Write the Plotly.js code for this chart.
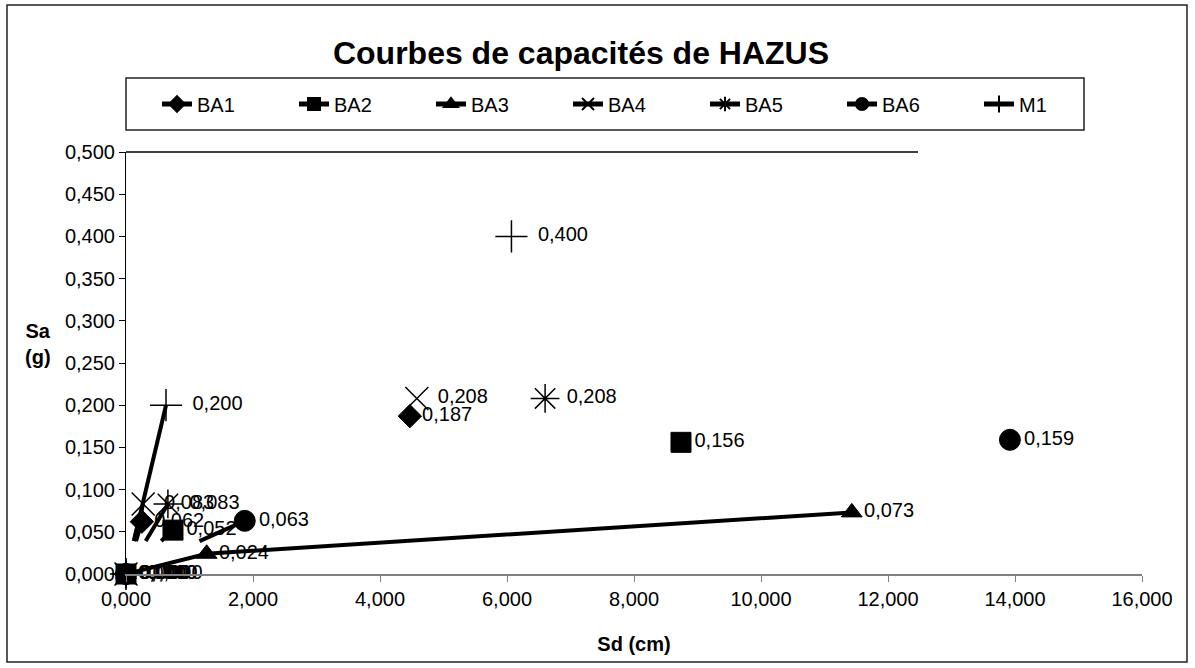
<!DOCTYPE html>
<html>
<head>
<meta charset="utf-8">
<script src="https://cdn.plot.ly/plotly-3.0.1.min.js"></script>
<style>html,body{margin:0;padding:0;background:#fff;}#chart{width:1195px;height:668px;}</style>
</head>
<body>
<div id="chart"></div>
<script>
// ---- Data (Sd in cm, Sa in g): origin, yield point, ultimate point ----
const seriesNames = ["BA1", "BA2", "BA3", "BA4", "BA5", "BA6", "M1"];
const sdBA1 = [0, 0.25, 4.47];   const saBA1 = [0, 0.062, 0.187];
const sdBA2 = [0, 0.74, 8.74];   const saBA2 = [0, 0.052, 0.156];
const sdBA3 = [0, 1.27, 11.43];  const saBA3 = [0, 0.024, 0.073];
const sdBA4 = [0, 0.27, 4.58];   const saBA4 = [0, 0.083, 0.208];
const sdBA5 = [0, 0.66, 6.60];   const saBA5 = [0, 0.083, 0.208];
const sdBA6 = [0, 1.87, 13.92];  const saBA6 = [0, 0.063, 0.159];
const sdM1  = [0, 0.63, 6.07];   const saM1  = [0, 0.200, 0.400];
const xTicks = [0, 2, 4, 6, 8, 10, 12, 14, 16];
const yTicks = [0, 0.05, 0.1, 0.15, 0.2, 0.25, 0.3, 0.35, 0.4, 0.45, 0.5];

// ---- Styles ----
const FONT = "Liberation Sans, Arial, sans-serif";
const LINE_FLOOR = 0.039; // lines appear only above this level in the source (except BA3)
const styles = {
  BA1: {symbol: "diamond", size: 18, pad: 0},
  BA2: {symbol: "square", size: 20, pad: 0},
  BA3: {symbol: "triangle-up", size: 18, pad: 0, full: true},
  BA4: {symbol: "x-thin-open", size: 23, thin: true, pad: 1},
  BA5: {symbol: "asterisk-open", size: 24, thin: true, pad: 1},
  BA6: {symbol: "circle", size: 21, pad: 0},
  M1:  {symbol: "cross-thin-open", size: 23, thin: true, pad: 2}
};
const dataSd = {BA1: sdBA1, BA2: sdBA2, BA3: sdBA3, BA4: sdBA4, BA5: sdBA5, BA6: sdBA6, M1: sdM1};
const dataSa = {BA1: saBA1, BA2: saBA2, BA3: saBA3, BA4: saBA4, BA5: saBA5, BA6: saBA6, M1: saM1};

const fmt = v => v.toFixed(3).replace(".", ",");

function buildTrace(name) {
  const sd = dataSd[name], sa = dataSa[name], st = styles[name];
  const lab = v => "\u00A0".repeat(st.pad) + fmt(v);
  let x, y, sizes, text;
  if (st.full) {
    x = sd.slice(); y = sa.slice();
    sizes = sd.map(() => st.size);
    text = sa.map(lab);
  } else {
    const t = LINE_FLOOR / sa[1];
    const cx = sd[0] + (sd[1] - sd[0]) * t;
    x = [sd[0], null, cx, sd[1], null, sd[2]];
    y = [sa[0], null, LINE_FLOOR, sa[1], null, sa[2]];
    sizes = [st.size, 0, 0, st.size, 0, st.size];
    text = [lab(sa[0]), "", "", lab(sa[1]), "", lab(sa[2])];
  }
  return {
    type: "scatter", mode: "lines+markers+text", name: name,
    x: x, y: y, text: text, textposition: "middle right",
    textfont: {family: FONT, size: 20, color: "#000"},
    connectgaps: false, cliponaxis: false,
    line: {color: "#000", width: 4},
    marker: {symbol: st.symbol, size: sizes, color: "#000", opacity: 1,
             line: {color: "#000", width: st.thin ? 1.5 : 1}},
    hoverinfo: "x+y"
  };
}

const traces = seriesNames.map(buildTrace);

// plot area in pixels
const L = 126, R = 53, T = 152, B = 94, W = 1195, H = 668;
const pw = W - L - R, ph = H - T - B;
const px = p => (p - L) / pw;
const py = p => (H - B - p) / ph;

const layout = {
  width: W, height: H,
  margin: {l: L, r: R, t: T, b: B, pad: 0},
  paper_bgcolor: "#fff", plot_bgcolor: "#fff",
  separators: ", ",
  showlegend: true,
  font: {family: FONT, size: 20, color: "#000"},
  title: {text: "<b>Courbes de capacités de HAZUS</b>", font: {family: FONT, size: 32, color: "#000"},
          xref: "container", x: 581 / W, xanchor: "center",
          yref: "container", y: 1 - 53 / H, yanchor: "middle"},
  xaxis: {range: [0, 16], tickvals: xTicks, tickformat: ".3f",
          showgrid: false, zeroline: false, showline: true, linecolor: "#808080", linewidth: 1.5,
          ticks: "outside", ticklen: 6, tickcolor: "#808080", tickwidth: 1,
          tickfont: {family: FONT, size: 20, color: "#000"},
          title: {text: "<b>Sd (cm)</b>", font: {family: FONT, size: 20, color: "#000"}, standoff: 28}},
  yaxis: {range: [0, 0.5], tickvals: yTicks, tickformat: ".3f",
          showgrid: false, zeroline: false, showline: true, linecolor: "#000", linewidth: 1,
          ticks: "outside", ticklen: 6, tickcolor: "#000", tickwidth: 1,
          tickfont: {family: FONT, size: 20, color: "#000"}},
  legend: {orientation: "h", xref: "container", yref: "container",
           x: 157 / W, xanchor: "left", y: 1 - 104 / H, yanchor: "middle",
           bgcolor: "rgba(0,0,0,0)", borderwidth: 0,
           itemsizing: "constant", entrywidth: 92, entrywidthmode: "pixels",
           font: {family: FONT, size: 20, color: "#000"}, traceorder: "normal"},
  annotations: [
    {text: "<b>Sa</b><br><b>(g)</b>", xref: "paper", yref: "paper", x: px(38), y: py(344),
     showarrow: false, xanchor: "center", yanchor: "middle", align: "center",
     font: {family: FONT, size: 20, color: "#000"}}
  ],
  shapes: [
    {type: "rect", xref: "paper", yref: "paper", x0: px(7), x1: px(1187), y0: py(662), y1: py(5),
     line: {color: "#222", width: 1.5}, fillcolor: "rgba(0,0,0,0)", layer: "below"},
    {type: "rect", xref: "paper", yref: "paper", x0: px(126), x1: px(1084), y0: py(130), y1: py(78),
     line: {color: "#222", width: 1.5}, fillcolor: "rgba(0,0,0,0)", layer: "below"},
    {type: "line", xref: "paper", yref: "paper", x0: 0, x1: px(918), y0: 1, y1: 1,
     line: {color: "#000", width: 1.5}, layer: "below"}
  ]
};

Plotly.newPlot("chart", traces, layout, {displayModeBar: false, staticPlot: true});
</script>
</body>
</html>
